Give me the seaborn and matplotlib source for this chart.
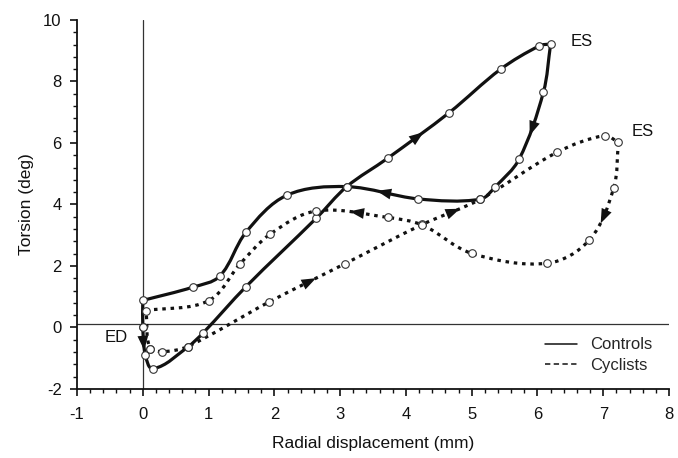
import numpy as np
import matplotlib
matplotlib.use("Agg")
import matplotlib.pyplot as plt
from matplotlib.path import Path
from matplotlib.patches import PathPatch
from matplotlib.lines import Line2D
from matplotlib.ticker import MultipleLocator
import seaborn as sns

# ---- data: torsion vs radial displacement loops (ED -> ES -> ED) ----
controls_x = [0.00, 0.04, 0.16, 0.68, 0.92, 1.57, 2.64, 3.10, 3.72, 4.66, 5.44, 6.03, 6.20,
              6.09, 5.72, 5.36, 5.13, 4.19, 3.10, 2.19, 1.57, 1.17, 0.76, 0.00, 0.00]
controls_y = [0.00, -0.90, -1.34, -0.64, -0.17, 1.33, 3.56, 4.58, 5.50, 6.99, 8.40, 9.16, 9.22,
              7.65, 5.47, 4.58, 4.17, 4.18, 4.58, 4.30, 3.10, 1.67, 1.31, 0.88, 0.00]

cyclists_x = [0.11, 0.29, 0.68, 1.92, 3.07, 4.25, 5.13, 6.30, 7.02, 7.23,
              7.16, 6.79, 6.15, 5.00, 4.25, 3.72, 2.64, 1.94, 1.48, 1.00, 0.05, 0.11]
cyclists_y = [-0.69, -0.79, -0.62, 0.83, 2.07, 3.35, 4.17, 5.70, 6.24, 6.02,
              4.55, 2.85, 2.09, 2.41, 3.33, 3.58, 3.79, 3.04, 2.07, 0.87, 0.55, -0.69]

group_names = ["Controls", "Cyclists"]
x_ticks = [-1, 0, 1, 2, 3, 4, 5, 6, 7, 8]
y_ticks = [-2, 0, 2, 4, 6, 8, 10]

# ---- style ----
sns.set_style("ticks")
plt.rcParams["font.family"] = ["Liberation Sans", "DejaVu Sans"]
plt.rcParams["axes.unicode_minus"] = False
ink = "#111111"

fig = plt.figure(figsize=(6.78, 4.58), dpi=100)
ax = fig.add_axes([0.1136, 0.1507, 0.8732, 0.8057])
ax.set_xlim(-1, 8)
ax.set_ylim(-2, 10)


def smooth_segments(xs, ys, corners=()):
    """Cubic Bezier control points for a smooth line through the points
    (tangents built in display space so both axes are treated alike)."""
    P = ax.transData.transform(np.column_stack([xs, ys]))
    n = len(P)
    closed = np.allclose(P[0], P[-1])
    t_in = np.zeros_like(P)
    t_out = np.zeros_like(P)
    for i in range(n):
        prev = P[i - 1] if i > 0 else (P[-2] if closed else P[i])
        nxt = P[i + 1] if i < n - 1 else (P[1] if closed else P[i])
        if i in corners:
            a, b = P[i] - prev, nxt - P[i]
        else:
            a = b = nxt - prev
        na, nb = np.linalg.norm(a), np.linalg.norm(b)
        t_in[i] = a / na if na > 0 else 0
        t_out[i] = b / nb if nb > 0 else 0
    segs = []
    for i in range(n - 1):
        L = np.linalg.norm(P[i + 1] - P[i])
        c1 = P[i] + t_out[i] * L / 3
        c2 = P[i + 1] - t_in[i + 1] * L / 3
        segs.append((P[i], c1, c2, P[i + 1]))
    return segs


def draw_curve(segs, **kw):
    inv = ax.transData.inverted()
    verts = [segs[0][0]]
    codes = [Path.MOVETO]
    for p0, c1, c2, p1 in segs:
        verts += [c1, c2, p1]
        codes += [Path.CURVE4] * 3
    path = Path(inv.transform(np.array(verts)), codes)
    ax.add_patch(PathPatch(path, fill=False, capstyle="butt", **kw))


def draw_arrow(segs, i, t=0.5):
    p0, c1, c2, p1 = segs[i]
    pt = ((1 - t) ** 3) * p0 + 3 * ((1 - t) ** 2) * t * c1 + 3 * (1 - t) * t * t * c2 + t ** 3 * p1
    d = 3 * ((1 - t) ** 2) * (c1 - p0) + 6 * (1 - t) * t * (c2 - c1) + 3 * t * t * (p1 - c2)
    d = d / np.linalg.norm(d)
    inv = ax.transData.inverted()
    tip = inv.transform(pt + d * 6)
    tail = inv.transform(pt - d * 6)
    ax.annotate("", xy=tip, xytext=tail,
                arrowprops=dict(arrowstyle="-|>,head_length=0.8,head_width=0.3",
                                mutation_scale=13, color=ink, lw=0,
                                shrinkA=0, shrinkB=0), zorder=6)


# reference lines through the origin
ax.axvline(0, color="#333333", lw=0.9, zorder=1)
ax.axhline(0.12, color="#333333", lw=0.9, zorder=1)

ctrl = smooth_segments(controls_x, controls_y, corners=(12, 23))
cyc = smooth_segments(cyclists_x, cyclists_y, corners=(0, 9, 20))

draw_curve(ctrl, color=ink, lw=2.3, zorder=3)
draw_curve(cyc, color=ink, lw=2.3, linestyle=(0, (1.1, 1.5)), zorder=3)

for segs, idx, t in [(ctrl, 0, 0.6), (ctrl, 8, 0.5), (ctrl, 13, 0.55), (ctrl, 17, 0.5),
                     (cyc, 3, 0.55), (cyc, 5, 0.55), (cyc, 10, 0.55), (cyc, 15, 0.45)]:
    draw_arrow(segs, idx, t)

sns.scatterplot(x=controls_x, y=controls_y, ax=ax, marker="o", s=30, color="white",
                edgecolor="#333333", linewidth=0.8, zorder=5)
sns.scatterplot(x=cyclists_x, y=cyclists_y, ax=ax, marker="o", s=30, color="white",
                edgecolor="#333333", linewidth=0.8, zorder=5)

# annotations
ax.text(-0.40, -0.33, "ED", fontsize=12, ha="center", va="center", color=ink)
ax.text(6.50, 9.29, "ES", fontsize=12, ha="left", va="center", color=ink)
ax.text(7.43, 6.36, "ES", fontsize=12, ha="left", va="center", color=ink)

# axes and ticks
ax.set_xticks(x_ticks)
ax.set_yticks(y_ticks)
ax.xaxis.set_minor_locator(MultipleLocator(0.2))
ax.yaxis.set_minor_locator(MultipleLocator(0.4))
ax.tick_params(which="major", direction="out", length=5, width=1.2, color=ink,
               labelsize=12, labelcolor=ink)
ax.tick_params(axis="x", which="major", pad=8)
ax.tick_params(axis="y", which="major", pad=6)
ax.tick_params(which="minor", direction="out", length=3, width=1.0, color=ink)
sns.despine(ax=ax)
for s in ("left", "bottom"):
    ax.spines[s].set_linewidth(1.3)
    ax.spines[s].set_color(ink)

ax.set_xlabel("Radial displacement (mm)", fontsize=12.5, color=ink, labelpad=10)
ax.set_ylabel("Torsion (deg)", fontsize=12.5, color=ink, labelpad=7)

handles = [Line2D([], [], color=ink, lw=1.1, ls="-"),
           Line2D([], [], color=ink, lw=1.1, ls=(0, (3.5, 2.2)))]
ax.legend(handles, group_names, loc="upper left", bbox_to_anchor=(0.78, 0.158),
          frameon=False, fontsize=12, handlelength=1.9, handletextpad=0.8,
          labelspacing=0.35, borderaxespad=0)

fig.savefig("out.png", dpi=100)
